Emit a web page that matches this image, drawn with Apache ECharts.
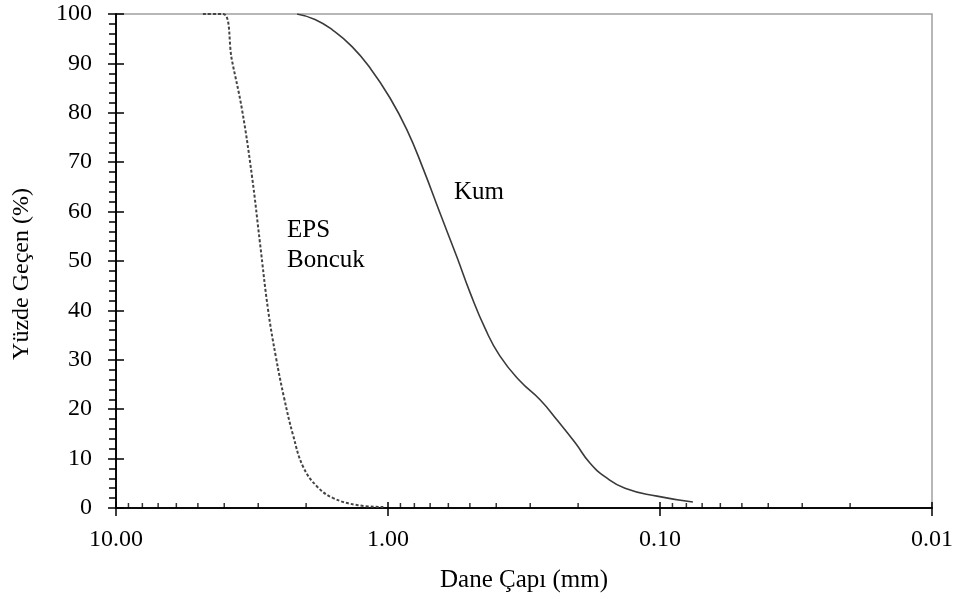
<!DOCTYPE html>
<html>
<head>
<meta charset="utf-8">
<script src="https://cdn.jsdelivr.net/npm/echarts@6/dist/echarts.min.js"></script>
<style>
  html, body { margin: 0; padding: 0; background: #fff; }
  #chart { width: 957px; height: 599px; }
</style>
</head>
<body>
<div id="chart"></div>
<script>
// Dane çapı (mm) / yüzde geçen (%)
var kumSize = [2.16, 1.855, 1.593, 1.356, 1.165, 0.983, 0.851, 0.744, 0.644, 0.558, 0.50, 0.44, 0.388, 0.327, 0.276, 0.239, 0.205, 0.181, 0.159, 0.1345, 0.1026, 0.0757]
var kumPass = [100, 98.9, 96.7, 93.4, 89.1, 83.0, 76.5, 68.8, 59.7, 50.8, 43.7, 36.4, 30.8, 25.7, 21.9, 17.8, 13.2, 9.1, 6.3, 4.0, 2.4, 1.2]

var epsSize = [4.79, 4.04, 3.75, 3.44, 3.16, 2.955, 2.76, 2.58, 2.41, 2.235, 2.05, 1.82, 1.59, 1.30, 1.04]
var epsPass = [100, 100, 90.7, 80.6, 67.0, 53.6, 40.1, 30.4, 22.3, 14.8, 8.3, 4.3, 2.0, 0.6, 0.2]

// ara çentikler (log eksen)
var xMinorTicks = [9, 8, 7, 6, 5, 4, 3, 2, 0.9, 0.8, 0.7, 0.6, 0.5, 0.4, 0.3, 0.2, 0.09, 0.08, 0.07, 0.06, 0.05, 0.04, 0.03, 0.02]

var font = 'Liberation Serif, Times New Roman, serif'

function pairs(xs, ys) {
  var out = []
  for (var i = 0; i < xs.length; i++) out.push([xs[i], ys[i]])
  return out
}

var chart = echarts.init(document.getElementById('chart'))

var xBase = {
  type: 'log',
  logBase: 10,
  min: 0.01,
  max: 10,
  inverse: true,
  splitNumber: 3,
  position: 'bottom',
  splitLine: { show: false },
  axisLine: { lineStyle: { color: '#000', width: 1.5 } }
}
var yBase = {
  type: 'value',
  min: 0,
  max: 100,
  interval: 10,
  position: 'left',
  splitLine: { show: false },
  axisLine: { show: true, lineStyle: { color: '#000', width: 1.5 } }
}

var option = {
  backgroundColor: '#fff',
  animation: false,
  grid: {
    left: 116, right: 25, top: 14, bottom: 91,
    show: true,
    borderColor: '#a0a0a0',
    borderWidth: 1.5
  },
  xAxis: [
    Object.assign({}, xBase, {
      name: 'Dane Çapı (mm)',
      nameLocation: 'middle',
      nameGap: 60,
      nameTextStyle: { fontFamily: font, fontSize: 25, color: '#000' },
      axisTick: { show: true, inside: false, length: 8, lineStyle: { color: '#000', width: 1.5 } },
      axisLabel: {
        fontFamily: font, fontSize: 24, color: '#000', margin: 20,
        formatter: function (v) { return Number(v).toFixed(2) }
      }
    }),
    Object.assign({}, xBase, {
      axisTick: { show: true, inside: true, length: 6, lineStyle: { color: '#000', width: 1.5 } },
      axisLabel: { show: false }
    })
  ],
  yAxis: [
    Object.assign({}, yBase, {
      name: 'Yüzde Geçen (%)',
      nameLocation: 'middle',
      nameGap: 82,
      nameRotate: 90,
      nameTextStyle: { fontFamily: font, fontSize: 24, color: '#000', padding: [0, 26, 0, 0] },
      axisTick: { show: true, inside: false, length: 8, lineStyle: { color: '#000', width: 1.5 } },
      minorTick: { show: true, splitNumber: 5, length: 7, lineStyle: { color: '#000', width: 1.5 } },
      axisLabel: { fontFamily: font, fontSize: 24, color: '#000', margin: 24 }
    }),
    Object.assign({}, yBase, {
      axisTick: { show: true, inside: true, length: 8, lineStyle: { color: '#000', width: 1.5 } },
      axisLabel: { show: false }
    })
  ],
  series: [
    {
      name: 'Kum',
      type: 'line',
      smooth: 0.5,
      symbol: 'none',
      lineStyle: { color: '#3a3a3a', width: 1.6 },
      data: pairs(kumSize, kumPass)
    },
    {
      name: 'EPS Boncuk',
      type: 'line',
      smooth: 0.4,
      symbol: 'none',
      lineStyle: { color: '#444', width: 2, type: [3, 2] },
      data: pairs(epsSize, epsPass)
    },
    {
      type: 'scatter',
      silent: true,
      clip: false,
      symbol: 'rect',
      symbolSize: [1.5, 5],
      symbolOffset: [0, -2.5],
      itemStyle: { color: '#000' },
      data: xMinorTicks.map(function (d) { return [d, 0] })
    }
  ],
  graphic: [
    { type: 'text', left: 454, top: 180, style: { text: 'Kum', font: '25px ' + font, fill: '#000' } },
    { type: 'text', left: 287, top: 218, style: { text: 'EPS', font: '25px ' + font, fill: '#000' } },
    { type: 'text', left: 287, top: 248, style: { text: 'Boncuk', font: '25px ' + font, fill: '#000' } }
  ]
}

chart.setOption(option)
</script>
</body>
</html>
